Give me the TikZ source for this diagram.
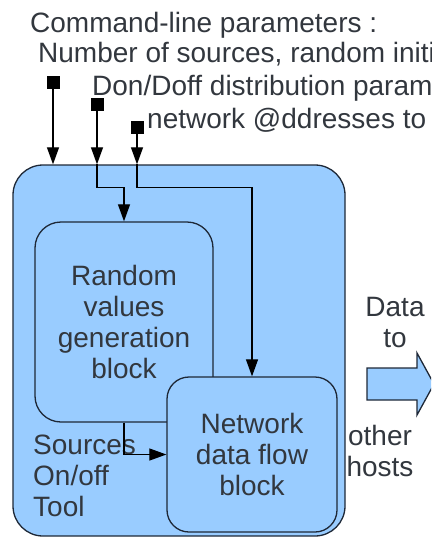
\documentclass[tikz,border=0pt]{standalone}
\usepackage{fontspec}
\setmainfont{Liberation Sans}
\usetikzlibrary{arrows.meta,positioning}
\definecolor{boxblue}{RGB}{153,204,255}
\definecolor{boxline}{RGB}{30,40,55}
\definecolor{labelgray}{RGB}{50,55,62}

\begin{document}
\begin{tikzpicture}[x=1pt,y=-1pt,
    block/.style={rectangle,draw=boxline,line width=1.3pt,fill=boxblue,align=center,text=labelgray,font=\fontsize{28}{31}\selectfont},
    param/.style={rectangle,fill=black,minimum size=13pt,inner sep=0pt},
    flow/.style={-{Triangle[length=17pt,width=12pt]},line width=1.2pt},
    txt/.style={text=labelgray,font=\fontsize{28}{31}\selectfont,inner sep=0pt}]
    \useasboundingbox (0,0) rectangle (431,538);
    \clip (0,0) rectangle (431,538);

    % Parameter texts
    \node[txt,anchor=base west] (cmd) at (30,32) {Command-line parameters :};
    \node[txt,anchor=base west] (nsrc) at (38,62) {Number of sources, random initi};
    \node[txt,anchor=base west] (dist) at (92,95) {Don/Doff distribution param};
    \node[txt,anchor=base west] (addr) at (147,128) {network @ddresses to};

    % Parameter inputs
    \node[param] (sq1) at (53,82.5) {};
    \node[param] (sq2) at (97,104.5) {};
    \node[param] (sq3) at (137,127.5) {};

    % Blocks
    \node[block,rounded corners=30pt,minimum width=332pt,minimum height=371pt] (tool) at (179,350.5) {};
    \node[block,rounded corners=26pt,minimum width=178pt,minimum height=200pt] (rand) at (124,322) {Random\\values\\generation\\block};
    \node[block,rounded corners=22pt,minimum width=170pt,minimum height=155pt] (net) at (252,454.5) {Network\\data flow\\block};
    \node[txt,anchor=north west,align=left] (toollbl) at (33,435) {Sources\\On/off\\Tool};

    % Connections
    \foreach \i in {1,2,3} {
        \draw[flow] (sq\i) -- (sq\i |- tool.north);
    }
    \draw[flow] (sq2 |- tool.north) -- ++(0,23) -| (rand.north);
    \draw[flow] (sq3 |- tool.north) -- ++(0,23) -| (net.north);
    \draw[flow] (rand.south) |- (net.west);

    % Output
    \node[txt,anchor=north,align=center] (datalbl) at (395,297) {Data\\to};
    \node[txt,anchor=north,align=center] (hostlbl) at (380,425) {other\\hosts};
    \draw[draw=boxline,line width=1.3pt,fill=boxblue] (367,368) -- (417,368) -- (417,353) -- (434,384)
        -- (417,415) -- (417,400) -- (367,400) -- cycle;
\end{tikzpicture}
\end{document}
